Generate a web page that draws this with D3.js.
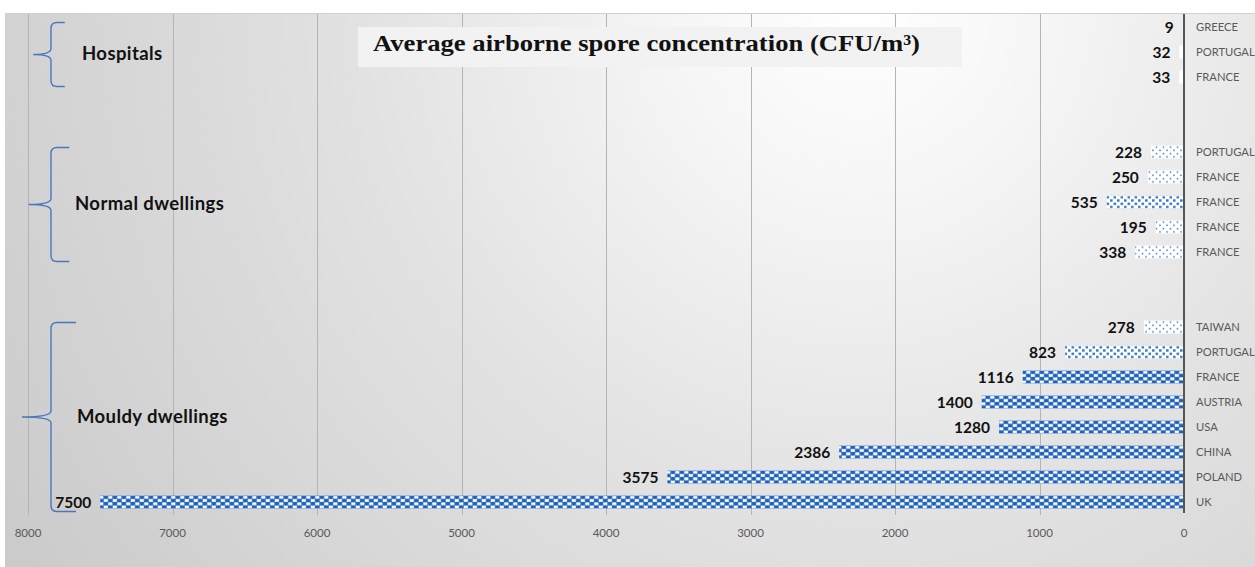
<!DOCTYPE html>
<html>
<head>
<meta charset="utf-8">
<script src="https://cdn.jsdelivr.net/npm/d3@7/dist/d3.min.js"></script>
<style>
  html, body { margin: 0; padding: 0; background: #ffffff; overflow: hidden; }
  svg { display: block; }
</style>
</head>
<body>
<svg id="chart" width="1255" height="567"></svg>
<script>
// ---------- data ----------
const categories = ["GREECE","PORTUGAL","FRANCE","","","PORTUGAL","FRANCE","FRANCE","FRANCE","FRANCE","","","TAIWAN","PORTUGAL","FRANCE","AUSTRIA","USA","CHINA","POLAND","UK"];
const values     = [9, 32, 33, null, null, 228, 250, 535, 195, 338, null, null, 278, 823, 1116, 1400, 1280, 2386, 3575, 7500];
const groupNames = ["Hospitals", "Normal dwellings", "Mouldy dwellings"];
const groupFirst = [0, 5, 12];
const groupLast  = [2, 9, 19];
const xTicks     = [0, 1000, 2000, 3000, 4000, 5000, 6000, 7000, 8000];
const title      = "Average airborne spore concentration (CFU/m³)";

// ---------- layout ----------
const W = 1255, H = 567;
const svg = d3.select("#chart");
const defs = svg.append("defs");

const x = d3.scaleLinear().domain([0, 8000]).range([1184, 28]);
const y = d3.scaleBand().domain(d3.range(categories.length))
  .range([14.5, 514.5]).paddingInner(0.48).paddingOuter(0.24);
const bw = y.bandwidth();

// background gradient
const grad = defs.append("radialGradient").attr("id", "bg")
  .attr("gradientUnits", "userSpaceOnUse")
  .attr("cx", 860).attr("cy", 10).attr("r", 1000);
grad.append("stop").attr("offset", "0").attr("stop-color", "#ffffff");
grad.append("stop").attr("offset", "0.18").attr("stop-color", "#f6f6f6");
grad.append("stop").attr("offset", "0.5").attr("stop-color", "#e2e2e2");
grad.append("stop").attr("offset", "1").attr("stop-color", "#cbcbcb");

svg.append("rect").attr("x", 5).attr("y", 13).attr("width", W - 5).attr("height", H - 13)
  .attr("fill", "url(#bg)");
svg.append("line").attr("x1", 5).attr("x2", W).attr("y1", 13.5).attr("y2", 13.5)
  .attr("stroke", "#d0d0d0").attr("stroke-width", 1);

// patterns
const blue = "#2f72c8";
const pDense = defs.append("pattern").attr("id", "pDense")
  .attr("patternUnits", "userSpaceOnUse").attr("width", 9).attr("height", 6.5);
pDense.append("rect").attr("width", 9).attr("height", 6.5).attr("fill", blue);
pDense.append("rect").attr("x", 0.3).attr("y", 0.4).attr("width", 4).attr("height", 2.8).attr("fill", "#ffffff");
pDense.append("rect").attr("x", 4.8).attr("y", 3.5).attr("width", 4).attr("height", 2.8).attr("fill", "#ffffff");
pDense.append("circle").attr("cx", 6.8).attr("cy", 1.9).attr("r", 1.6).attr("fill", "#1f5fb5");
pDense.append("circle").attr("cx", 2.3).attr("cy", 5).attr("r", 1.6).attr("fill", "#1f5fb5");

const pMed = defs.append("pattern").attr("id", "pMed")
  .attr("patternUnits", "userSpaceOnUse").attr("width", 7).attr("height", 6.5);
pMed.append("rect").attr("width", 7).attr("height", 6.5).attr("fill", "#ffffff");
pMed.append("rect").attr("x", 0.5).attr("y", 0.6).attr("width", 2.6).attr("height", 2.4).attr("fill", "#3a78c9");
pMed.append("rect").attr("x", 4).attr("y", 3.8).attr("width", 2.6).attr("height", 2.4).attr("fill", "#3a78c9");

const pLight = defs.append("pattern").attr("id", "pLight")
  .attr("patternUnits", "userSpaceOnUse").attr("width", 7).attr("height", 6.5);
pLight.append("rect").attr("width", 7).attr("height", 6.5).attr("fill", "#ffffff");
pLight.append("circle").attr("cx", 1.5).attr("cy", 1.6).attr("r", 0.95).attr("fill", "#5a8ed3");
pLight.append("circle").attr("cx", 5).attr("cy", 4.9).attr("r", 0.95).attr("fill", "#5a8ed3");

function fillFor(v) {
  if (v < 100) return "#ffffff";
  if (v < 500) return "url(#pLight)";
  if (v < 1000) return "url(#pMed)";
  return "url(#pDense)";
}

// gridlines
svg.append("g").selectAll("line").data(xTicks.filter(t => t > 0)).join("line")
  .attr("x1", d => Math.round(x(d)) + 0.5).attr("x2", d => Math.round(x(d)) + 0.5)
  .attr("y1", 14).attr("y2", 515)
  .attr("stroke", "#b4b4b4").attr("stroke-width", 1);

// title box + title
svg.append("rect").attr("x", 358).attr("y", 27).attr("width", 604).attr("height", 40)
  .attr("fill", "#f2f2f2");
svg.append("text").attr("x", 373).attr("y", 51)
  .attr("font-family", "'Liberation Serif', 'DejaVu Serif', serif")
  .attr("font-weight", "bold").attr("font-size", 22.5).attr("fill", "#111")
  .attr("textLength", 547).attr("lengthAdjust", "spacingAndGlyphs")
  .text(title);

// bars
const idx = d3.range(categories.length).filter(i => values[i] != null);
const barG = svg.append("g").selectAll("g").data(idx).join("g")
  .attr("transform", i => `translate(0,${y(i)})`);
barG.append("rect")
  .attr("x", i => x(values[i])).attr("y", 0)
  .attr("width", i => x(0) - x(values[i])).attr("height", bw)
  .attr("fill", i => fillFor(values[i]));

// value labels
svg.append("g").selectAll("text").data(idx).join("text")
  .attr("x", i => x(values[i]) - 9)
  .attr("y", i => y(i) + bw / 2 + 5.5)
  .attr("text-anchor", "end")
  .attr("font-family", "Lato, 'Open Sans', sans-serif")
  .attr("font-weight", "bold").attr("font-size", 15.5).attr("fill", "#111")
  .text(i => values[i]);

// y axis line
svg.append("line").attr("x1", 1184).attr("x2", 1184).attr("y1", 14).attr("y2", 513)
  .attr("stroke", "#555").attr("stroke-width", 2);

// category labels
svg.append("g").selectAll("text").data(idx).join("text")
  .attr("x", 1196).attr("y", i => y(i) + bw / 2 + 4)
  .attr("font-family", "Lato, 'Open Sans', sans-serif")
  .attr("font-size", 11.2).attr("fill", "#595959")
  .text(i => categories[i]);

// x tick labels
svg.append("g").selectAll("text").data(xTicks).join("text")
  .attr("x", d => x(d)).attr("y", 537)
  .attr("text-anchor", "middle")
  .attr("font-family", "Lato, 'Open Sans', sans-serif")
  .attr("font-size", 11.5).attr("fill", "#595959")
  .text(d => d);

// group braces + labels
const braceColor = "#4a78c0";
groupNames.forEach((name, g) => {
  const top = y(groupFirst[g]) + 2;
  const bot = y(groupLast[g]) + bw + 3;
  const mid = (top + bot) / 2;
  const h = bot - top;
  const xv = 51;
  const endX = xv + 8 + h * 0.09;
  const tipX = xv - (12 + h * 0.09);
  const r = 6;
  const path = d3.path();
  path.moveTo(endX, top);
  path.lineTo(xv + r, top);
  path.quadraticCurveTo(xv, top, xv, top + r);
  path.lineTo(xv, mid - r);
  path.quadraticCurveTo(xv, mid, tipX, mid);
  path.moveTo(tipX, mid);
  path.quadraticCurveTo(xv, mid, xv, mid + r);
  path.lineTo(xv, bot - r);
  path.quadraticCurveTo(xv, bot, xv + r, bot);
  path.lineTo(endX, bot);
  svg.append("path").attr("d", path.toString())
    .attr("fill", "none").attr("stroke", braceColor).attr("stroke-width", 1.4);
  svg.append("text").attr("x", [82, 75, 77][g]).attr("y", mid + 5.5)
    .attr("font-family", "Lato, 'Open Sans', sans-serif")
    .attr("font-weight", "bold").attr("font-size", 18.5).attr("letter-spacing", 0.4)
    .attr("fill", "#111")
    .text(name);
});
</script>
</body>
</html>
